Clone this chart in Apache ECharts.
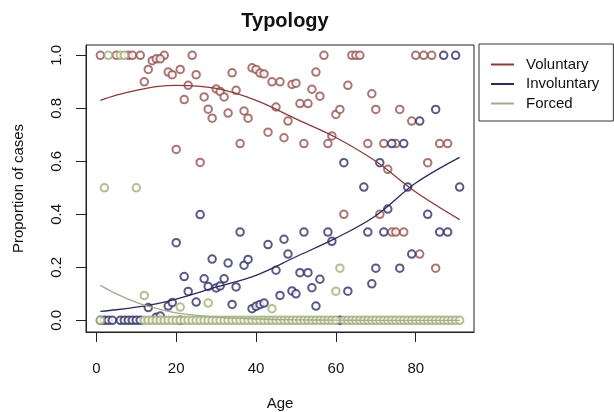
<!DOCTYPE html>
<html>
<head>
<meta charset="utf-8">
<script src="https://cdn.jsdelivr.net/npm/echarts@6/dist/echarts.min.js"></script>
<style>
  html, body { margin: 0; padding: 0; background: #fff; }
  #chart { width: 614px; height: 412px; }
</style>
</head>
<body>
<div id="chart"></div>
<script>
// tick values
const xTicks = [0, 20, 40, 60, 80];
const yTicks = [0, 0.2, 0.4, 0.6, 0.8, 1.0];

// observed proportions, [age, proportion]
const voluntaryPoints = [
  [1, 1], [5, 1], [8, 1], [9, 1], [11, 1], [17, 1], [24, 1], [57, 1], [64, 1], [65, 1], [66, 1], [80, 1], [82, 1], [84, 1],
  [12, 0.90], [13, 0.947], [14, 0.98], [15, 0.987], [16, 0.987], [18, 0.937], [19, 0.927], [20, 0.645], [21, 0.947],
  [22, 0.833], [23, 0.887], [25, 0.927], [26, 0.596], [27, 0.843], [28, 0.797], [29, 0.763], [30, 0.873], [31, 0.864],
  [32, 0.843], [33, 0.782], [34, 0.934], [35, 0.868], [36, 0.667], [37, 0.79], [38, 0.763], [39, 0.953], [40, 0.947],
  [41, 0.933], [42, 0.93], [43, 0.71], [44, 0.90], [45, 0.805], [46, 0.90], [47, 0.689], [48, 0.752], [49, 0.89],
  [50, 0.895], [51, 0.818], [52, 0.667], [53, 0.818], [54, 0.872], [55, 0.937], [56, 0.846], [58, 0.667], [59, 0.696],
  [60, 0.777], [61, 0.796], [63, 0.887], [68, 0.667], [69, 0.855], [70, 0.796], [72, 0.667], [75, 0.667], [76, 0.796],
  [79, 0.752], [86, 0.667], [88, 0.667], [73, 0.57], [83, 0.595], [62, 0.40], [71, 0.40], [74, 0.333], [75, 0.333],
  [77, 0.333], [81, 0.25], [85, 0.197]
];
const involuntaryPoints = [
  [87, 1], [90, 1], [81, 0.752], [85, 0.796], [74, 0.667], [77, 0.667], [62, 0.595], [71, 0.595], [67, 0.503],
  [78, 0.503], [91, 0.503], [83, 0.40], [26, 0.399], [73, 0.42], [20, 0.293], [36, 0.333], [43, 0.286], [29, 0.231],
  [33, 0.216], [37, 0.208], [38, 0.23], [45, 0.189], [22, 0.165], [27, 0.157], [28, 0.128], [32, 0.157], [23, 0.109],
  [30, 0.122], [31, 0.13], [35, 0.126], [13, 0.048], [18, 0.054], [19, 0.067], [25, 0.069], [34, 0.06], [39, 0.044],
  [40, 0.053], [41, 0.06], [42, 0.065], [46, 0.094], [15, 0.012], [16, 0.016], [52, 0.333], [58, 0.333], [68, 0.333],
  [72, 0.333], [86, 0.333], [88, 0.333], [47, 0.306], [59, 0.298], [48, 0.25], [79, 0.25], [70, 0.197], [76, 0.197],
  [51, 0.18], [53, 0.18], [56, 0.155], [54, 0.123], [49, 0.111], [50, 0.10], [63, 0.11], [69, 0.138], [55, 0.054],
  [1, 0], [2, 0], [3, 0], [4, 0], [6, 0], [7, 0], [8, 0], [9, 0], [10, 0], [11, 0], [21, 0], [61, 0]
];
const forcedPoints = [
  [3, 1], [6, 1], [7, 1], [2, 0.5], [10, 0.5], [12, 0.094], [21, 0.05], [28, 0.065], [44, 0.044], [60, 0.11], [61, 0.197]
];
// ages with no forced cases
const forcedZeroAges = [
  1, 12, 13, 14, 15, 16, 17, 18, 19, 20, 21, 22, 23, 24, 25, 26, 27, 28, 29, 30, 31, 32, 33, 34, 35,
  36, 37, 38, 39, 40, 41, 42, 43, 44, 45, 46, 47, 48, 49, 50, 51, 52, 53, 54, 55, 56, 57, 58, 59, 60, 62, 63, 64, 65,
  66, 67, 68, 69, 70, 71, 72, 73, 74, 75, 76, 77, 78, 79, 80, 81, 82, 83, 84, 85, 86, 87, 88, 89, 90, 91
];

// fitted curves
const curveAges = [1, 5, 10, 15, 20, 30, 40, 50, 60, 70, 80, 91];
const voluntaryFit = [0.83, 0.85, 0.868, 0.882, 0.887, 0.875, 0.83, 0.76, 0.69, 0.60, 0.484, 0.38];
const involuntaryFit = [0.034, 0.04, 0.05, 0.062, 0.08, 0.125, 0.17, 0.24, 0.31, 0.395, 0.518, 0.615];
const forcedFit = [0.132, 0.10, 0.068, 0.045, 0.028, 0.012, 0.005, 0.002, 0.001, 0, 0, 0];

const colVol = '#955252', colInv = '#2f2f66', colFor = '#a0ae76';
const font = '"Liberation Sans", Arial, sans-serif';

const chart = echarts.init(document.getElementById('chart'));

const scatter = (name, data, color) => ({
  name: name,
  type: 'scatter',
  data: data,
  symbol: 'emptyCircle',
  symbolSize: 7.5,
  itemStyle: { color: color, borderColor: color, borderWidth: 1.1 },
  silent: true
});
const curve = (name, ys, color) => ({
  name: name,
  type: 'line',
  data: curveAges.map((a, i) => [a, ys[i]]),
  smooth: 0.35,
  showSymbol: false,
  lineStyle: { color: color, width: 1.3 },
  itemStyle: { color: color },
  z: 3
});

chart.setOption({
  animation: false,
  title: {
    text: 'Typology',
    left: 280,
    textAlign: 'center',
    top: 6,
    textStyle: { fontFamily: font, fontSize: 20, fontWeight: 'bold', color: '#111' }
  },
  legend: {
    data: ['Voluntary', 'Involuntary', 'Forced'],
    orient: 'vertical',
    left: 479,
    top: 44,
    padding: [13, 14, 10, 12],
    itemWidth: 23,
    itemHeight: 2,
    itemGap: 4.5,
    icon: 'rect',
    borderColor: '#333',
    borderWidth: 1,
    textStyle: { fontFamily: font, fontSize: 15, color: '#111', padding: [0, 0, 0, 7] }
  },
  grid: {
    left: 86, top: 45, right: 140, bottom: 80,
    outerBoundsMode: 'none',
    containLabel: false,
    show: true, borderColor: '#222', borderWidth: 1
  },
  xAxis: {
    type: 'value',
    min: -2.6,
    max: 94.6,
    name: 'Age',
    nameLocation: 'middle',
    nameGap: 64,
    nameTextStyle: { fontFamily: font, fontSize: 15, color: '#111' },
    axisLine: { show: true, onZero: false, lineStyle: { color: '#222' } },
    axisTick: { show: true, length: 10, inside: false, customValues: xTicks, lineStyle: { color: '#222' } },
    axisLabel: { customValues: xTicks, margin: 29, fontFamily: font, fontSize: 15, color: '#111' },
    splitLine: { show: false }
  },
  yAxis: {
    type: 'value',
    min: -0.044,
    max: 1.039,
    name: 'Proportion of cases',
    nameLocation: 'middle',
    nameRotate: 90,
    nameGap: 60,
    nameTextStyle: { fontFamily: font, fontSize: 15, color: '#111' },
    axisLine: { show: true, onZero: false, lineStyle: { color: '#222' } },
    axisTick: { show: true, length: 10, customValues: yTicks, lineStyle: { color: '#222' } },
    axisLabel: {
      customValues: yTicks, rotate: 90, margin: 22,
      fontFamily: font, fontSize: 15, color: '#111',
      formatter: v => v.toFixed(1)
    },
    splitLine: { show: false }
  },
  series: [
    curve('Voluntary', voluntaryFit, '#8b3a3a'),
    curve('Involuntary', involuntaryFit, '#2a2a5e'),
    curve('Forced', forcedFit, '#a3ab8a'),
    scatter('Voluntary', voluntaryPoints, colVol),
    scatter('Involuntary', involuntaryPoints, colInv),
    scatter('Forced', forcedPoints.concat(forcedZeroAges.map(a => [a, 0])), colFor)
  ]
});
</script>
</body>
</html>
